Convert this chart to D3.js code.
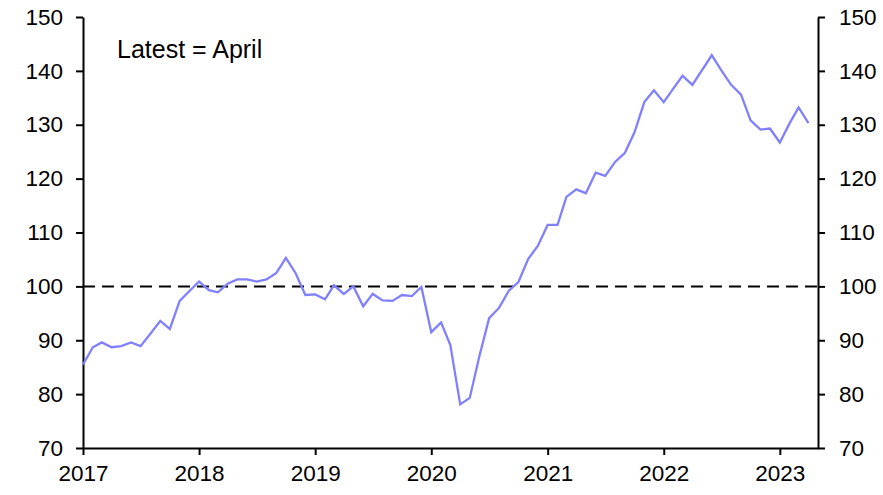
<!DOCTYPE html>
<html>
<head>
<meta charset="utf-8">
<script src="https://cdn.jsdelivr.net/npm/d3@7"></script>
<style>
  body { margin: 0; background: #fff; }
  svg text { font-family: "Liberation Sans", Arial, sans-serif; fill: #000; }
</style>
</head>
<body>
<svg width="883" height="495"></svg>
<script>
var startYear = 2017
var startMonth = 0
var yTicks = [70, 80, 90, 100, 110, 120, 130, 140, 150]
var xTickYears = [2017, 2018, 2019, 2020, 2021, 2022, 2023]
var refLevel = 100
var noteText = 'Latest = April'

// monthly index values, Jan 2017 to Apr 2023
var values = [
  85.5, 88.7, 89.6, 88.7, 88.9, 89.6, 88.9, 91.2, 93.6, 92.1, 97.3, 99.1,
  100.9, 99.3, 98.9, 100.5, 101.3, 101.3, 100.9, 101.3, 102.5, 105.3, 102.4, 98.4,
  98.5, 97.6, 100.2, 98.6, 100.0, 96.3, 98.6, 97.4, 97.3, 98.4, 98.2, 99.9,
  91.5, 93.3, 89.1, 78.1, 79.3, 87.2, 94.1, 96.0, 99.2, 100.8, 105.1, 107.5,
  111.4, 111.4, 116.6, 118.0, 117.3, 121.1, 120.5, 123.1, 124.8, 128.6, 134.2, 136.4,
  134.2, 136.8, 139.1, 137.4, 140.1, 142.9, 140.1, 137.4, 135.6, 130.8, 129.1, 129.3,
  126.7, 130.3, 133.2, 130.3
]

var data = values.map(function (v, i) {
  return { date: new Date(startYear, startMonth + i, 1), value: v }
})

var svg = d3.select("svg")
var margin = { left: 83, right: 65, top: 17, bottom: 47 }
var width = +svg.attr("width"), height = +svg.attr("height")

var x = d3.scaleTime()
  .domain([new Date(startYear, 0, 1), new Date(2023, 4, 1)])
  .range([margin.left, width - margin.right])

var y = d3.scaleLinear()
  .domain([70, 150])
  .range([height - margin.bottom, margin.top])

var fontSize = '22.5px'

// left axis
var gl = svg.append("g")
  .attr("transform", "translate(" + margin.left + ",0)")
  .call(d3.axisLeft(y).tickValues(yTicks).tickSize(7).tickPadding(13).tickSizeOuter(0))
// right axis
var gr = svg.append("g")
  .attr("transform", "translate(" + (width - margin.right) + ",0)")
  .call(d3.axisRight(y).tickValues(yTicks).tickSize(7).tickPadding(14).tickSizeOuter(0))
// bottom axis
var gb = svg.append("g")
  .attr("transform", "translate(0," + (height - margin.bottom) + ")")
  .call(d3.axisBottom(x)
    .tickValues(xTickYears.map(function (yr) { return new Date(yr, 0, 1) }))
    .tickFormat(d3.timeFormat("%Y"))
    .tickSize(7).tickPadding(10).tickSizeOuter(0))

;[gl, gr, gb].forEach(function (g) {
  g.selectAll("path.domain").attr("stroke", "#000").attr("stroke-width", 2)
  g.selectAll(".tick line").attr("stroke", "#000").attr("stroke-width", 2)
  g.selectAll(".tick text").style("font-size", fontSize).attr("fill", "#000")
})

// reference line at 100
svg.append("line")
  .attr("x1", x.range()[0]).attr("x2", x.range()[1])
  .attr("y1", y(refLevel)).attr("y2", y(refLevel))
  .attr("stroke", "#000")
  .attr("stroke-width", 2)
  .attr("stroke-dasharray", "12,7")

var line = d3.line()
  .x(function (d) { return x(d.date) })
  .y(function (d) { return y(d.value) })

svg.append("path")
  .datum(data)
  .attr("d", line)
  .attr("fill", "none")
  .attr("stroke", "#8080ff")
  .attr("stroke-width", 2.3)

svg.append("text")
  .attr("x", 117)
  .attr("y", 58)
  .style("font-size", "25px")
  .text(noteText)
</script>
</body>
</html>
